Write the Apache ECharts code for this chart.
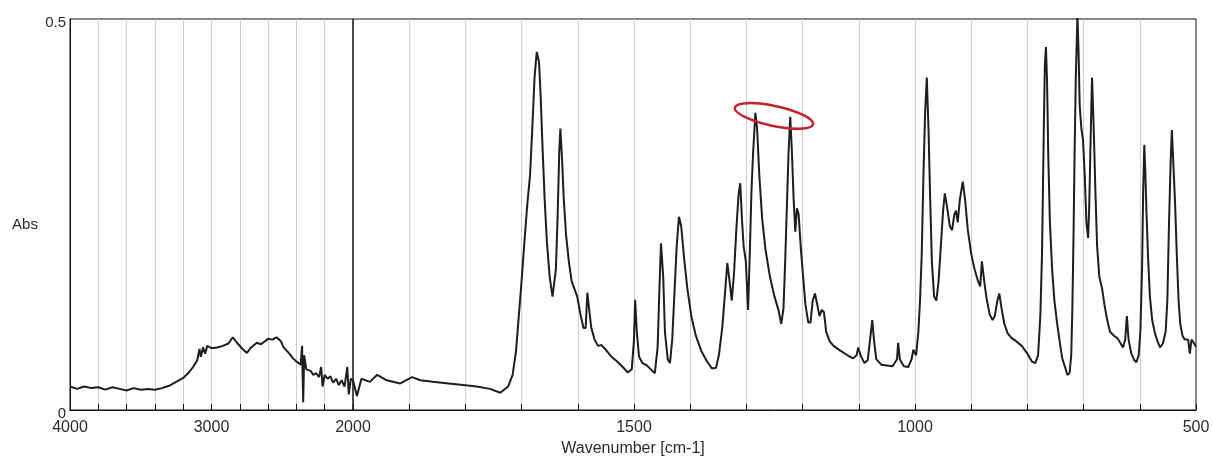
<!DOCTYPE html>
<html>
<head>
<meta charset="utf-8">
<script src="https://cdn.jsdelivr.net/npm/echarts/dist/echarts.min.js"></script>
<style>
  html, body { margin: 0; padding: 0; background: #fff; }
  #chart { width: 1213px; height: 460px; }
</style>
</head>
<body>
<div id="chart"></div>
<script>
// spectrum, 4000-2000 cm-1 (compressed part of the axis)
var leftWave = [4000, 3950, 3900, 3850, 3800, 3750, 3700, 3650, 3600, 3550, 3500, 3450, 3400, 3350, 3300, 3250, 3200, 3160, 3130, 3100, 3085, 3075, 3060, 3045, 3030, 3000, 2960, 2920, 2880, 2850, 2820, 2780, 2750, 2720, 2680, 2650, 2600, 2570, 2540, 2510, 2490, 2450, 2424, 2400, 2370, 2360, 2352, 2345, 2330, 2300, 2280, 2260, 2240, 2225, 2215, 2200, 2180, 2160, 2140, 2120, 2100, 2080, 2060, 2040, 2030, 2015, 2000]
var leftAbs = [0.030, 0.027, 0.030, 0.028, 0.029, 0.026, 0.029, 0.027, 0.025, 0.028, 0.026, 0.027, 0.026, 0.028, 0.031, 0.036, 0.041, 0.048, 0.055, 0.064, 0.078, 0.068, 0.080, 0.072, 0.082, 0.079, 0.080, 0.082, 0.085, 0.093, 0.086, 0.078, 0.073, 0.080, 0.086, 0.084, 0.091, 0.090, 0.093, 0.088, 0.080, 0.072, 0.066, 0.062, 0.058, 0.082, 0.010, 0.070, 0.052, 0.050, 0.045, 0.047, 0.042, 0.055, 0.030, 0.045, 0.040, 0.043, 0.035, 0.040, 0.032, 0.038, 0.030, 0.055, 0.020, 0.040, 0.038]

// spectrum, 2000-500 cm-1
var rightWave = [2000, 1993, 1985, 1970, 1957, 1940, 1916, 1895, 1880, 1858, 1830, 1804, 1780, 1756, 1738, 1724,
  1716, 1710, 1705, 1700, 1695, 1690, 1685, 1681, 1677, 1673, 1669, 1666, 1663, 1659, 1655, 1650, 1645, 1642, 1639, 1636, 1633, 1631, 1628, 1625, 1621, 1616, 1611, 1606, 1601, 1596, 1590, 1586, 1583, 1580, 1576, 1570, 1564, 1558, 1550, 1540, 1530, 1520, 1511, 1504,
  1500, 1498, 1495, 1491, 1485, 1477, 1470, 1463, 1458, 1455, 1452, 1448, 1445, 1440, 1436, 1432, 1428, 1424, 1420, 1416, 1411, 1405, 1398, 1390, 1380, 1370, 1361, 1354, 1349, 1343, 1338, 1334, 1330, 1326, 1322, 1318, 1314, 1311, 1308, 1305, 1301,
  1297, 1294, 1291, 1288, 1284, 1281, 1277, 1272, 1266, 1258, 1250, 1243, 1238, 1234, 1231, 1228, 1225, 1222, 1219, 1216, 1213, 1210, 1207, 1203, 1199, 1195, 1190, 1186, 1182, 1178, 1174, 1170, 1166, 1162, 1158, 1152, 1145, 1133, 1120, 1110, 1104, 1101, 1097, 1090, 1084, 1080, 1076, 1073, 1069, 1060, 1050, 1040, 1032, 1030, 1027, 1020, 1012, 1006, 1003,
  998, 994, 991, 988, 985, 982, 979, 976, 973, 970, 966, 962, 958, 954, 950, 947, 943, 938, 934, 930, 927, 924, 920, 915, 911, 906, 900, 894, 888, 884, 881, 879, 876, 872, 867, 862, 858, 854, 850, 846, 841, 835, 828, 820, 810, 800,
  792, 786, 781, 777, 774, 771, 769, 767, 765, 763, 760, 756, 752, 747, 742, 738, 733, 729, 725, 722, 720, 718, 716, 714, 711, 709, 707, 704, 701, 698, 695, 692, 690, 688, 685, 682, 679, 676, 672, 667, 663, 658, 653, 646, 640, 634, 630, 626, 623, 620, 615, 610, 606, 602,
  599, 596, 594, 592, 590, 588, 585, 582, 578, 573, 568, 564, 559, 554, 551, 548, 545, 543, 540, 537, 534, 531, 528, 524, 520, 514, 511, 508, 505, 502, 500]
var rightAbs = [0.038, 0.018, 0.040, 0.036, 0.045, 0.038, 0.034, 0.042, 0.038, 0.036, 0.034, 0.032, 0.030, 0.027, 0.022, 0.030,
  0.045, 0.075, 0.120, 0.165, 0.215, 0.262, 0.300, 0.360, 0.425, 0.458, 0.445, 0.400, 0.340, 0.270, 0.215, 0.170, 0.145, 0.145, 0.180, 0.245, 0.330, 0.360, 0.320, 0.270, 0.225, 0.190, 0.165, 0.155, 0.145, 0.125, 0.105, 0.105, 0.150, 0.130, 0.105, 0.090, 0.082, 0.083, 0.077, 0.068, 0.062, 0.055, 0.048, 0.052,
  0.090, 0.141, 0.100, 0.068, 0.060, 0.057, 0.052, 0.047, 0.080, 0.150, 0.213, 0.170, 0.100, 0.065, 0.060, 0.090, 0.150, 0.210, 0.247, 0.235, 0.195, 0.155, 0.120, 0.095, 0.075, 0.062, 0.053, 0.054, 0.070, 0.105, 0.150, 0.188, 0.165, 0.140, 0.175, 0.230, 0.275, 0.290, 0.245, 0.210, 0.190,
  0.128, 0.200, 0.280, 0.330, 0.380, 0.360, 0.300, 0.245, 0.205, 0.170, 0.145, 0.128, 0.110, 0.130, 0.190, 0.260, 0.330, 0.375, 0.330, 0.270, 0.228, 0.258, 0.250, 0.205, 0.170, 0.135, 0.112, 0.112, 0.140, 0.149, 0.135, 0.120, 0.128, 0.125, 0.100, 0.088, 0.082, 0.076, 0.070, 0.066, 0.070, 0.080, 0.070, 0.060, 0.064, 0.090, 0.115, 0.090, 0.065, 0.058, 0.057, 0.056, 0.065, 0.086, 0.065, 0.056, 0.055, 0.065, 0.077,
  0.070, 0.100, 0.141, 0.200, 0.300, 0.380, 0.425, 0.360, 0.270, 0.190, 0.145, 0.140, 0.165, 0.210, 0.255, 0.277, 0.260, 0.235, 0.230, 0.250, 0.255, 0.240, 0.270, 0.292, 0.270, 0.230, 0.200, 0.180, 0.165, 0.158, 0.190, 0.192, 0.160, 0.140, 0.122, 0.115, 0.120, 0.138, 0.149, 0.130, 0.110, 0.098, 0.092, 0.088, 0.082, 0.072,
  0.062, 0.060, 0.070, 0.120, 0.200, 0.350, 0.440, 0.464, 0.420, 0.330, 0.240, 0.180, 0.140, 0.110, 0.085, 0.066, 0.055, 0.045, 0.047, 0.070, 0.130, 0.220, 0.330, 0.420, 0.505, 0.460, 0.390, 0.360, 0.345, 0.300, 0.240, 0.220, 0.260, 0.330, 0.425, 0.360, 0.280, 0.210, 0.170, 0.155, 0.135, 0.115, 0.100, 0.095, 0.092, 0.085, 0.080, 0.090, 0.120, 0.090, 0.072, 0.064, 0.061, 0.070,
  0.100, 0.180, 0.280, 0.339, 0.300, 0.250, 0.190, 0.145, 0.115, 0.098, 0.087, 0.080, 0.085, 0.100, 0.140, 0.240, 0.320, 0.358, 0.310, 0.260, 0.195, 0.140, 0.110, 0.095, 0.090, 0.090, 0.072, 0.090, 0.087, 0.085, 0.081]

var leftLabels = [4000, 3000, 2000]
var rightLabels = [1500, 1000, 500]
var yLabels = [0, 0.5]

// the circled pair of peaks (centre of the red mark, in data units)
var markCenter = [1251, 0.376]

function zip(xs, ys) {
  var out = []
  for (var i = 0; i < xs.length; i++) out.push([xs[i], ys[i]])
  return out
}

var font = "'Liberation Sans', Arial, sans-serif"
var textColor = '#2a2a35'
var chart = echarts.init(document.getElementById('chart'))

function xAxisOf(idx, min, max, step, labels) {
  return {
    type: 'value',
    gridIndex: idx,
    min: min,
    max: max,
    interval: step,
    inverse: true,
    axisLine: { show: true, lineStyle: { color: '#111', width: 1 } },
    axisTick: { show: true, inside: true, length: 6, lineStyle: { color: '#111' } },
    axisLabel: {
      show: true,
      showMinLabel: true,
      showMaxLabel: true,
      margin: 10,
      color: textColor,
      fontFamily: font,
      fontSize: 16,
      formatter: function (v) {
        return labels.indexOf(v) >= 0 ? String(v) : ''
      }
    },
    splitLine: {
      show: true,
      showMinLine: false,
      showMaxLine: false,
      lineStyle: { color: '#cfcfcf', width: 1 }
    }
  }
}

var option = {
  backgroundColor: '#fff',
  animation: false,
  grid: [
    { left: 70, top: 19, width: 283, height: 391, show: true, borderColor: '#111', borderWidth: 1, containLabel: false },
    { left: 353, top: 19, width: 843, height: 391, show: true, borderColor: '#111', borderWidth: 1, containLabel: false }
  ],
  xAxis: [
    xAxisOf(0, 2000, 4000, 200, leftLabels),
    xAxisOf(1, 500, 2000, 100, rightLabels)
  ],
  yAxis: [
    {
      type: 'value', gridIndex: 0, min: 0, max: 0.5, interval: 0.5,
      axisLine: { show: true, lineStyle: { color: '#111' } },
      axisTick: { show: false },
      splitLine: { show: false },
      axisLabel: {
        margin: 4, color: textColor, fontFamily: font, fontSize: 15,
        formatter: function (v) { return yLabels.indexOf(v) >= 0 ? '{a|' + v + '}' : '' },
        rich: { a: { color: textColor, fontFamily: font, fontSize: 15, padding: [8, 0, 0, 0] } }
      }
    },
    {
      type: 'value', gridIndex: 1, min: 0, max: 0.5, interval: 0.5,
      axisLine: { show: false },
      axisTick: { show: false },
      splitLine: { show: false },
      axisLabel: { show: false }
    }
  ],
  series: [
    {
      type: 'line', xAxisIndex: 0, yAxisIndex: 0, data: zip(leftWave, leftAbs),
      symbol: 'none', lineStyle: { color: '#1e1e1e', width: 2 }
    },
    {
      type: 'line', xAxisIndex: 1, yAxisIndex: 1, data: zip(rightWave, rightAbs),
      symbol: 'none', lineStyle: { color: '#1e1e1e', width: 2 }
    }
  ]
}
chart.setOption(option)

var c = chart.convertToPixel({ xAxisIndex: 1, yAxisIndex: 1 }, markCenter)
chart.setOption({
  graphic: [
    {
      type: 'text',
      x: 25, y: 225,
      style: { text: 'Abs', fill: textColor, font: '15px ' + font, textAlign: 'center', textVerticalAlign: 'middle' }
    },
    {
      type: 'text',
      x: 633, y: 449,
      style: { text: 'Wavenumber [cm-1]', fill: textColor, font: '16px ' + font, textAlign: 'center', textVerticalAlign: 'middle' }
    },
    {
      type: 'ellipse',
      x: c[0], y: c[1],
      rotation: -0.21,
      shape: { cx: 0, cy: 0, rx: 40, ry: 10 },
      style: { fill: 'none', stroke: '#c3222b', lineWidth: 2.5 },
      z: 10
    }
  ]
})
</script>
</body>
</html>
